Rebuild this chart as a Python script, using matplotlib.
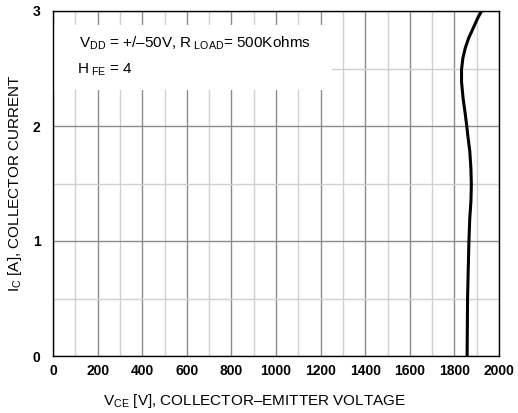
import matplotlib
matplotlib.use("Agg")
import matplotlib.pyplot as plt
from matplotlib.ticker import MultipleLocator
from matplotlib.patches import Rectangle

plt.rcParams['font.family'] = ['Liberation Sans', 'DejaVu Sans']
plt.rcParams['mathtext.fontset'] = 'custom'
plt.rcParams['mathtext.rm'] = 'Liberation Sans'
plt.rcParams['mathtext.it'] = 'Liberation Sans'

# Collector current vs. collector-emitter voltage curve
ic_amps = [0.0, 0.25, 0.5, 0.75, 0.99, 1.2, 1.34, 1.49, 1.63, 1.78, 1.92, 1.99,
           2.10, 2.24, 2.385, 2.49, 2.59, 2.68, 2.765, 2.85, 2.94, 3.0]
vce_volts = [1857, 1858, 1859, 1862, 1865, 1869, 1874, 1876, 1874, 1869, 1860, 1856,
             1849, 1839, 1832, 1832, 1838, 1849, 1864, 1884, 1905, 1922]

x_ticks = [0, 200, 400, 600, 800, 1000, 1200, 1400, 1600, 1800, 2000]
y_ticks = [0, 1, 2, 3]

fig = plt.figure(figsize=(5.18, 4.13), dpi=100)
ax = fig.add_axes([53 / 518, 1 - 356 / 413, (499 - 53) / 518, (356 - 11) / 413])

ax.set_xlim(0, 2000)
ax.set_ylim(0, 3)
ax.set_xticks(x_ticks)
ax.set_yticks(y_ticks)
ax.xaxis.set_minor_locator(MultipleLocator(100))
ax.yaxis.set_minor_locator(MultipleLocator(0.5))
ax.grid(which='major', color='#8c8c8c', linewidth=1.0)
ax.grid(which='minor', color='#d0d0d0', linewidth=1.0)
ax.set_axisbelow(True)
ax.tick_params(which='both', length=0)
ax.tick_params(axis='x', pad=6)
ax.tick_params(axis='y', pad=9)
for lbl in ax.get_xticklabels() + ax.get_yticklabels():
    lbl.set_fontweight('bold')
    lbl.set_fontsize(10)
for sp in ax.spines.values():
    sp.set_color('black')
    sp.set_linewidth(1.0)

ax.plot(vce_volts, ic_amps, color='black', linewidth=2.2, zorder=3,
        solid_joinstyle='round')

# Conditions box covering the grid
box_x1 = (332 - 53) / (499 - 53)
box_y0 = (356 - 90) / (356 - 11)
box_y1 = (356 - 25) / (356 - 11)
ax.add_patch(Rectangle((0, box_y0), box_x1, box_y1 - box_y0,
                       transform=ax.transAxes, facecolor='white', edgecolor='none', zorder=2))

ax.text((79 - 53) / 446, (356 - 43) / 345,
        r'V$_{\mathrm{DD}}$ = +/–50V, R$_{\ \mathrm{LOAD}}$= 500Kohms',
        transform=ax.transAxes, fontsize=11, va='center', ha='left', zorder=4)
ax.text((77 - 53) / 446, (356 - 70) / 345,
        r'H$_{\ \mathrm{FE}}$ = 4',
        transform=ax.transAxes, fontsize=11, va='center', ha='left', zorder=4)

ax.set_xlabel(r'V$_{\mathrm{CE}}$ [V], COLLECTOR–EMITTER VOLTAGE', fontsize=11, labelpad=10)
ax.xaxis.label.set_x(0.452)
ax.set_ylabel(r'I$_{\mathrm{C}}$ [A], COLLECTOR CURRENT', fontsize=11, labelpad=6)

fig.savefig('out.png', dpi=100)
